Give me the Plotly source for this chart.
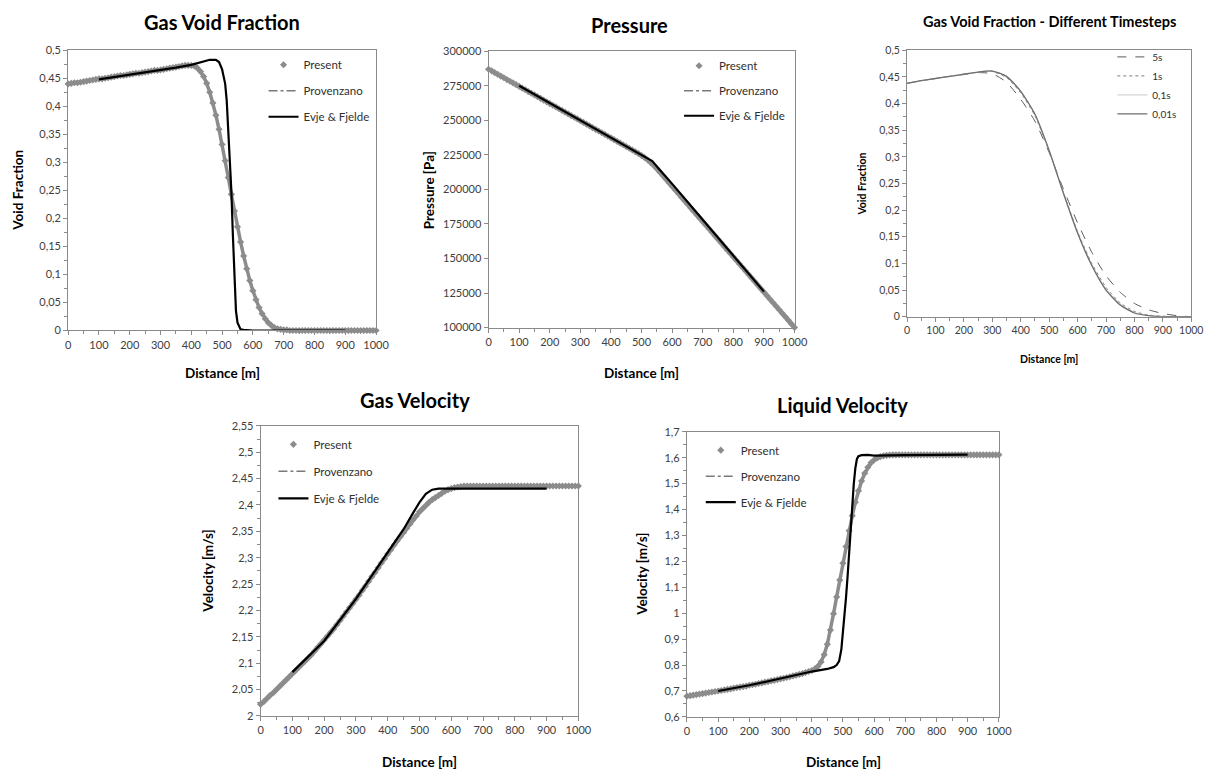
import plotly.graph_objects as go

# ---------------- DATA ----------------
x_present = list(range(0, 1001, 10))

void_present = [0.440, 0.441, 0.442, 0.442, 0.443, 0.444, 0.445, 0.446, 0.447, 0.448,
                0.449, 0.449, 0.450, 0.451, 0.452, 0.453, 0.454, 0.455, 0.455, 0.456,
                0.457, 0.458, 0.459, 0.459, 0.460, 0.461, 0.462, 0.463, 0.464, 0.464,
                0.465, 0.466, 0.467, 0.468, 0.469, 0.470, 0.471, 0.472, 0.473, 0.473,
                0.473, 0.472, 0.468, 0.462, 0.453, 0.441, 0.425, 0.406, 0.384, 0.359,
                0.332, 0.303, 0.273, 0.243, 0.213, 0.185, 0.158, 0.133, 0.110, 0.089,
                0.071, 0.055, 0.041, 0.030, 0.021, 0.014, 0.009, 0.005, 0.003, 0.002,
                0.001, 0.001, 0.0, 0.0, 0.0, 0.0, 0.0, 0.0, 0.0, 0.0,
                0.0, 0.0, 0.0, 0.0, 0.0, 0.0, 0.0, 0.0, 0.0, 0.0,
                0.0, 0.0, 0.0, 0.0, 0.0, 0.0, 0.0, 0.0, 0.0, 0.0, 0.0]
void_prov_x = [0, 100, 200, 300, 400, 420, 440, 460, 480, 500, 520, 540, 560, 580, 600, 620, 640, 660, 680, 700, 800, 1000]
void_prov_y = [0.440, 0.449, 0.457, 0.465, 0.473, 0.468, 0.453, 0.425, 0.384, 0.332, 0.273, 0.213, 0.158, 0.110, 0.071, 0.041, 0.021, 0.009, 0.003, 0.001, 0.0, 0.0]
void_evje_x = [100, 150, 200, 250, 300, 350, 400, 420, 440, 460, 480, 490, 500, 505, 510, 515, 520, 525, 530, 535, 540, 545, 550, 555, 560, 570, 600, 900]
void_evje_y = [0.448, 0.452, 0.457, 0.461, 0.465, 0.469, 0.474, 0.477, 0.481, 0.483, 0.483, 0.479, 0.466, 0.455, 0.440, 0.410, 0.360, 0.300, 0.250, 0.170, 0.085, 0.035, 0.014, 0.006, 0.002, 0.001, 0.0, 0.0]

pres_present = [287000, 285800, 284500, 283300, 282000, 280800, 279500, 278300, 277100, 275800,
                274600, 273300, 272100, 270800, 269600, 268400, 267100, 265900, 264600, 263400,
                262100, 260900, 259700, 258400, 257200, 255900, 254700, 253400, 252200, 251000,
                249700, 248500, 247200, 246000, 244700, 243500, 242300, 241000, 239800, 238500,
                237300, 236000, 234800, 233500, 232300, 231000, 229800, 228500, 227200, 225900,
                224500, 223000, 221300, 219400, 217300, 215000, 212500, 209900, 207300, 204700,
                202100, 199550, 197000, 194450, 191900, 189350, 186800, 184250, 181700, 179150,
                176600, 174050, 171500, 168950, 166400, 163850, 161300, 158750, 156200, 153650,
                151100, 148550, 146000, 143450, 140900, 138350, 135800, 133250, 130700, 128150,
                125600, 123050, 120500, 117950, 115400, 112850, 110300, 107750, 105200, 102650, 100000]
pres_prov_x = [0, 200, 400, 500, 540, 600, 800, 1000]
pres_prov_y = [287000, 262100, 237300, 224500, 217300, 202100, 151100, 100000]
pres_evje_x = [100, 200, 300, 400, 500, 535, 560, 600, 700, 800, 900]
pres_evje_y = [275000, 262500, 250000, 237500, 225000, 220500, 214000, 204000, 178000, 152000, 126000]

ts_x = [0, 50, 100, 150, 200, 250, 300, 350, 400, 450, 500, 550, 600, 650, 700, 750, 800, 850, 900, 950, 1000]
ts_5s = [0.438, 0.443, 0.447, 0.451, 0.455, 0.458, 0.456, 0.440, 0.408, 0.367, 0.308, 0.240, 0.176, 0.121, 0.077, 0.046, 0.025, 0.013, 0.006, 0.002, 0.0]
ts_1s = [0.438, 0.443, 0.447, 0.451, 0.455, 0.459, 0.460, 0.449, 0.420, 0.377, 0.311, 0.233, 0.160, 0.100, 0.055, 0.026, 0.010, 0.003, 0.001, 0.0, 0.0]
ts_01s = [0.438, 0.443, 0.447, 0.451, 0.455, 0.459, 0.461, 0.451, 0.423, 0.380, 0.312, 0.232, 0.158, 0.097, 0.051, 0.023, 0.008, 0.002, 0.0, 0.0, 0.0]
ts_001s = [0.438, 0.443, 0.447, 0.451, 0.455, 0.459, 0.461, 0.451, 0.423, 0.380, 0.312, 0.232, 0.157, 0.096, 0.050, 0.022, 0.007, 0.002, 0.0, 0.0, 0.0]
ts_names = ["5s", "1s", "0,1s", "0,01s"]

gas_present = [2.022, 2.027, 2.033, 2.039, 2.044, 2.050, 2.056, 2.062, 2.068, 2.074,
               2.080, 2.086, 2.092, 2.098, 2.104, 2.110, 2.116, 2.123, 2.130, 2.137,
               2.144, 2.151, 2.158, 2.165, 2.173, 2.181, 2.189, 2.197, 2.205, 2.213,
               2.221, 2.229, 2.238, 2.246, 2.255, 2.264, 2.272, 2.281, 2.290, 2.298,
               2.307, 2.315, 2.324, 2.332, 2.340, 2.348, 2.356, 2.364, 2.372, 2.379,
               2.387, 2.393, 2.399, 2.405, 2.410, 2.414, 2.418, 2.422, 2.426, 2.429,
               2.431, 2.433, 2.434, 2.435, 2.436, 2.436, 2.436, 2.436, 2.436, 2.436,
               2.436, 2.436, 2.436, 2.436, 2.436, 2.436, 2.436, 2.436, 2.436, 2.436,
               2.436, 2.436, 2.436, 2.436, 2.436, 2.436, 2.436, 2.436, 2.436, 2.436,
               2.436, 2.436, 2.436, 2.436, 2.436, 2.436, 2.436, 2.436, 2.436, 2.436, 2.436]
gas_prov_x = [0, 100, 200, 300, 400, 500, 550, 600, 650, 1000]
gas_prov_y = [2.022, 2.080, 2.144, 2.221, 2.307, 2.387, 2.414, 2.431, 2.436, 2.436]
gas_evje_x = [100, 200, 300, 400, 450, 480, 500, 520, 540, 560, 600, 900]
gas_evje_y = [2.083, 2.142, 2.222, 2.310, 2.354, 2.385, 2.405, 2.421, 2.429, 2.431, 2.431, 2.431]

liq_present = [0.680, 0.682, 0.684, 0.686, 0.688, 0.690, 0.692, 0.694, 0.696, 0.698,
               0.700, 0.702, 0.704, 0.706, 0.708, 0.711, 0.713, 0.715, 0.717, 0.719,
               0.722, 0.724, 0.726, 0.729, 0.731, 0.734, 0.736, 0.739, 0.741, 0.744,
               0.747, 0.749, 0.752, 0.755, 0.758, 0.761, 0.764, 0.767, 0.771, 0.775,
               0.779, 0.785, 0.795, 0.812, 0.840, 0.880, 0.935, 0.998, 1.063, 1.128,
               1.193, 1.257, 1.318, 1.376, 1.428, 1.472, 1.510, 1.540, 1.563, 1.580,
               1.591, 1.599, 1.604, 1.607, 1.609, 1.610, 1.611, 1.611, 1.611, 1.611,
               1.611, 1.611, 1.611, 1.611, 1.611, 1.611, 1.611, 1.611, 1.611, 1.611,
               1.611, 1.611, 1.611, 1.611, 1.611, 1.611, 1.611, 1.611, 1.611, 1.611,
               1.611, 1.611, 1.611, 1.611, 1.611, 1.611, 1.611, 1.611, 1.611, 1.611, 1.611]
liq_prov_x = [0, 100, 200, 300, 400, 430, 450, 470, 490, 510, 530, 550, 570, 600, 650, 1000]
liq_prov_y = [0.680, 0.700, 0.722, 0.747, 0.779, 0.812, 0.880, 0.998, 1.128, 1.257, 1.376, 1.472, 1.540, 1.591, 1.610, 1.611]
liq_evje_x = [100, 200, 300, 400, 450, 470, 480, 488, 495, 500, 505, 510, 515, 520, 525, 530, 535, 540, 545, 550, 560, 580, 600, 700, 800, 900]
liq_evje_y = [0.700, 0.722, 0.748, 0.775, 0.785, 0.792, 0.800, 0.815, 0.860, 0.920, 0.985, 1.060, 1.140, 1.240, 1.340, 1.430, 1.500, 1.560, 1.595, 1.606, 1.610, 1.611, 1.608, 1.610, 1.610, 1.612]

x_ticks = [0, 100, 200, 300, 400, 500, 600, 700, 800, 900, 1000]
x_ticklabels = ["0", "100", "200", "300", "400", "500", "600", "700", "800", "900", "1000"]
void_ticks = [0, 0.05, 0.1, 0.15, 0.2, 0.25, 0.3, 0.35, 0.4, 0.45, 0.5]
void_ticklabels = ["0", "0,05", "0,1", "0,15", "0,2", "0,25", "0,3", "0,35", "0,4", "0,45", "0,5"]
pres_ticks = [100000, 125000, 150000, 175000, 200000, 225000, 250000, 275000, 300000]
pres_ticklabels = ["100000", "125000", "150000", "175000", "200000", "225000", "250000", "275000", "300000"]
gas_ticks = [2, 2.05, 2.1, 2.15, 2.2, 2.25, 2.3, 2.35, 2.4, 2.45, 2.5, 2.55]
gas_ticklabels = ["2", "2,05", "2,1", "2,15", "2,2", "2,25", "2,3", "2,35", "2,4", "2,45", "2,5", "2,55"]
liq_ticks = [0.6, 0.7, 0.8, 0.9, 1.0, 1.1, 1.2, 1.3, 1.4, 1.5, 1.6, 1.7]
liq_ticklabels = ["0,6", "0,7", "0,8", "0,9", "1", "1,1", "1,2", "1,3", "1,4", "1,5", "1,6", "1,7"]

# ---------------- STYLE ----------------
W, H = 1225, 776
FONT = "Lato, 'Open Sans', sans-serif"
GRAY_M = "#8c8c8c"
AX = "#8a8a8a"

def px2x(p):
    return p / W

def px2y(p):
    return 1 - p / H

panels = {
    1: dict(x0=66, x1=378, y0=44, y1=329),
    2: dict(x0=492, x1=802, y0=45, y1=326),
    3: dict(x0=916, x1=1204, y0=44, y1=315),
    4: dict(x0=261, x1=583, y0=426, y1=721),
    5: dict(x0=693, x1=1009, y0=432, y1=722),
}

fig = go.Figure()

def add_compare(n, xp, yp, xprov, yprov, xe, ye):
    suffix = "" if n == 1 else str(n)
    xa, ya = "x" + suffix, "y" + suffix
    lg = "legend" + suffix
    fig.add_trace(go.Scatter(x=xprov, y=yprov, mode="lines", name="Provenzano",
                             line=dict(color="#7a7a7a", width=1.6, dash="dashdot"),
                             xaxis=xa, yaxis=ya, legend=lg, legendrank=2,
                             legendgroup=f"p{n}b"))
    fig.add_trace(go.Scatter(x=xp, y=yp, mode="lines", showlegend=False, hoverinfo="skip",
                             line=dict(color=GRAY_M, width=3.5), cliponaxis=False,
                             xaxis=xa, yaxis=ya, legendgroup=f"p{n}a"))
    fig.add_trace(go.Scatter(x=xp, y=yp, mode="markers", name="Present",
                             marker=dict(symbol="diamond", size=5.5, color=GRAY_M),
                             cliponaxis=False,
                             xaxis=xa, yaxis=ya, legend=lg, legendrank=1,
                             legendgroup=f"p{n}a"))
    fig.add_trace(go.Scatter(x=xe, y=ye, mode="lines", name="Evje & Fjelde",
                             line=dict(color="black", width=2.2),
                             xaxis=xa, yaxis=ya, legend=lg, legendrank=3,
                             legendgroup=f"p{n}c"))

add_compare(1, x_present, void_present, void_prov_x, void_prov_y, void_evje_x, void_evje_y)
add_compare(2, x_present, pres_present, pres_prov_x, pres_prov_y, pres_evje_x, pres_evje_y)
add_compare(4, x_present, gas_present, gas_prov_x, gas_prov_y, gas_evje_x, gas_evje_y)
add_compare(5, x_present, liq_present, liq_prov_x, liq_prov_y, liq_evje_x, liq_evje_y)

ts_styles = [dict(color="#5a5a5a", width=1, dash="dash"),
             dict(color="#7a7a7a", width=1, dash="dot"),
             dict(color="#d4d4d4", width=1.2),
             dict(color="#6e6e6e", width=1.3)]
for i, (nm, ys) in enumerate(zip(ts_names, [ts_5s, ts_1s, ts_01s, ts_001s])):
    fig.add_trace(go.Scatter(x=ts_x, y=ys, mode="lines", name=nm,
                             line=dict(shape="spline", smoothing=0.6, **ts_styles[i]),
                             xaxis="x3", yaxis="y3", legend="legend3", legendgroup=f"t{i}"))

def axis_pair(n, ytv, ytt, yrange, yminor, small=False):
    p = panels[n]
    suffix = "" if n == 1 else str(n)
    tf = dict(family=FONT, size=10.5 if small else 11, color="#404040")
    xa = dict(domain=[px2x(p["x0"]), px2x(p["x1"])], range=[0, 1000], anchor="y" + suffix,
              tickmode="array", tickvals=x_ticks, ticktext=x_ticklabels,
              showline=True, linecolor=AX, linewidth=1, mirror=True,
              ticks="outside", ticklen=4, tickcolor=AX, tickfont=tf,
              showgrid=False, zeroline=False, fixedrange=True,
              minor=dict(tickmode="linear", tick0=0, dtick=50, ticks="outside", ticklen=3, tickcolor=AX, showgrid=False))
    ya = dict(domain=[px2y(p["y1"]), px2y(p["y0"])], range=yrange, anchor="x" + suffix,
              tickmode="array", tickvals=ytv, ticktext=ytt,
              showline=True, linecolor=AX, linewidth=1, mirror=True,
              ticks="outside", ticklen=4, tickcolor=AX, tickfont=tf,
              showgrid=False, zeroline=False, fixedrange=True)
    if yminor:
        ya["minor"] = dict(tickmode="linear", tick0=yrange[0], dtick=yminor, ticks="outside", ticklen=3, tickcolor=AX, showgrid=False)
    fig.update_layout(**{"xaxis" + suffix: xa, "yaxis" + suffix: ya})

axis_pair(1, void_ticks, void_ticklabels, [0, 0.5], 0.025)
axis_pair(2, pres_ticks, pres_ticklabels, [100000, 300000], None)
axis_pair(3, void_ticks, void_ticklabels, [0, 0.5], 0.025, small=True)
axis_pair(4, gas_ticks, gas_ticklabels, [2, 2.55], 0.025)
axis_pair(5, liq_ticks, liq_ticklabels, [0.6, 1.7], 0.05)

def legend_at(xpx, ypx, gap, size=11.5):
    return dict(x=px2x(xpx), y=px2y(ypx), xanchor="left", yanchor="top",
                bgcolor="rgba(0,0,0,0)", borderwidth=0, tracegroupgap=gap,
                font=dict(family=FONT, size=size, color="#303030"), itemwidth=30)

fig.update_layout(
    width=W, height=H, margin=dict(l=0, r=0, t=0, b=0),
    paper_bgcolor="white", plot_bgcolor="white",
    font=dict(family=FONT, color="#202020"),
    legend=legend_at(264, 44, 7),
    legend2=legend_at(685, 45, 6),
    legend3=legend_at(1124, 36, 0, size=10),
    legend4=legend_at(274, 430, 8),
    legend5=legend_at(707, 436, 7),
)

annotations = []
def title(txt, cx, cy, size):
    annotations.append(dict(text=f"<b>{txt}</b>", x=px2x(cx), y=px2y(cy), xref="paper", yref="paper",
                            showarrow=False, xanchor="center", yanchor="middle",
                            font=dict(family=FONT, size=size, color="black")))

def ytitle(txt, cx, cy, size):
    annotations.append(dict(text=f"<b>{txt}</b>", x=px2x(cx), y=px2y(cy), xref="paper", yref="paper",
                            showarrow=False, xanchor="center", yanchor="middle", textangle=-90,
                            font=dict(family=FONT, size=size, color="black")))

title("Gas Void Fraction", 222, 15, 20)
title("Pressure", 635, 18, 20)
title("Gas Void Fraction - Different Timesteps", 1060, 15, 14.5)
title("Gas Velocity", 417, 400, 20)
title("Liquid Velocity", 851, 405, 20)

title("Distance [m]", 222, 372, 13.5)
title("Distance [m]", 647, 372, 13.5)
title("Distance [m]", 1060, 358, 10.5)
title("Distance [m]", 422, 768, 13.5)
title("Distance [m]", 852, 768, 13.5)

ytitle("Void Fraction", 15, 186, 13.5)
ytitle("Pressure [Pa]", 432, 186, 13.5)
ytitle("Void Fraction", 870, 180, 10.5)
ytitle("Velocity [m/s]", 208, 574, 13.5)
ytitle("Velocity [m/s]", 648, 577, 13.5)

fig.update_layout(annotations=annotations)

fig.write_html("out.html", config={"displayModeBar": False},
               post_script="document.body.style.margin='0';document.body.style.padding='0';")
